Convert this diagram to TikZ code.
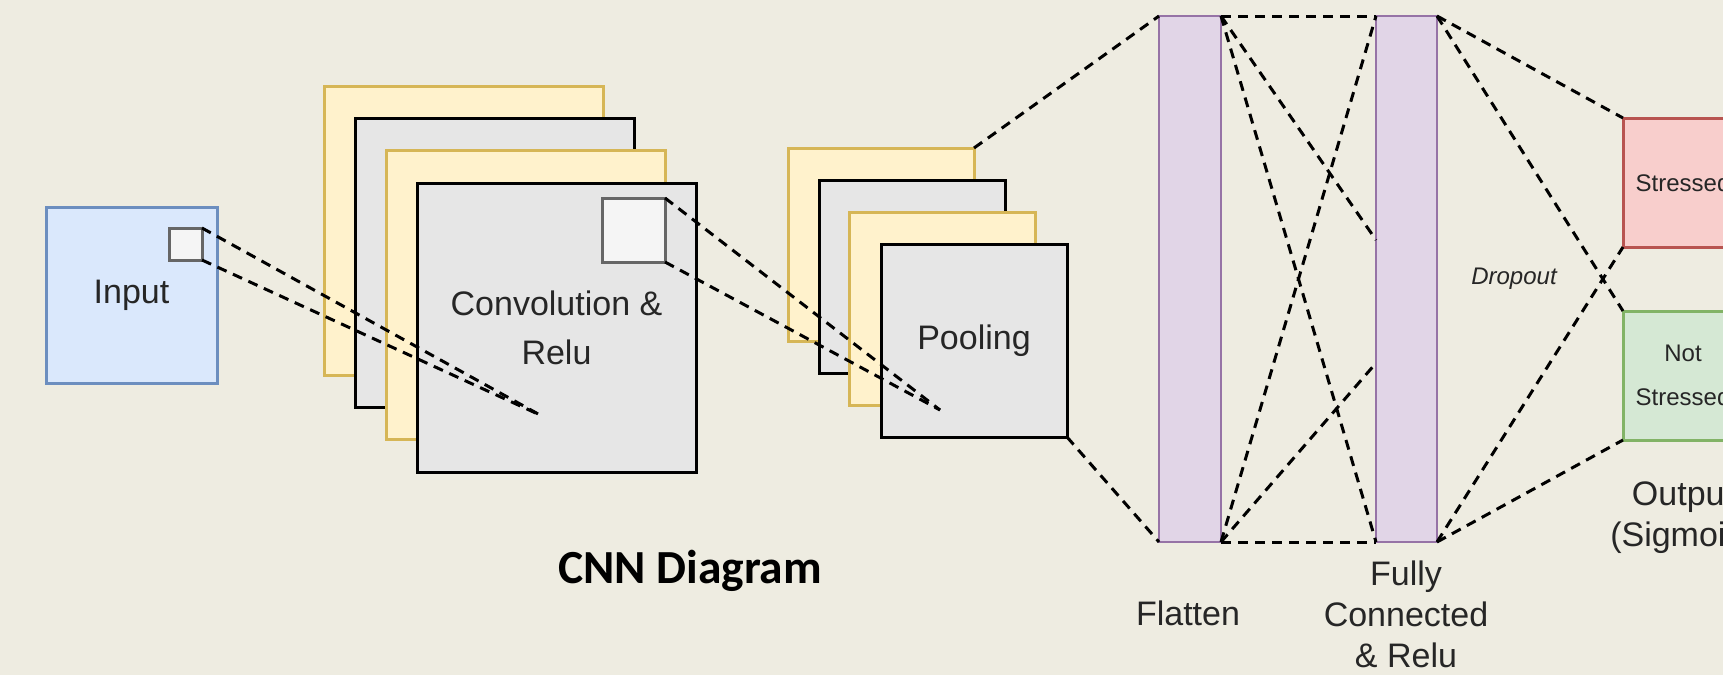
\documentclass[tikz,border=0pt]{standalone}
\usepackage{fontspec}
\setmainfont{Liberation Sans}
\newfontfamily\titlefont{Carlito}
\definecolor{bg}{HTML}{EEECE1}
\definecolor{txt}{HTML}{262626}
\definecolor{inFill}{HTML}{DAE8FC}
\definecolor{inLine}{HTML}{6C8EBF}
\definecolor{yFill}{HTML}{FFF2CC}
\definecolor{yLine}{HTML}{D6B656}
\definecolor{gFill}{HTML}{E6E6E6}
\definecolor{sFill}{HTML}{F5F5F5}
\definecolor{sLine}{HTML}{666666}
\definecolor{pFill}{HTML}{E1D5E7}
\definecolor{pLine}{HTML}{9673A6}
\definecolor{rFill}{HTML}{F8CECC}
\definecolor{rLine}{HTML}{B85450}
\definecolor{grFill}{HTML}{D5E8D4}
\definecolor{grLine}{HTML}{82B366}
\begin{document}
\begin{tikzpicture}[x=1pt,y=-1pt,
  box/.style={rectangle, inner sep=0pt, outer sep=0pt, anchor=north west, line width=3pt, text=txt},
  convsize/.style={minimum width=279pt, minimum height=289pt},
  poolsize/.style={minimum width=186pt, minimum height=193pt},
  yellowmap/.style={box, fill=yFill, draw=yLine},
  graymap/.style={box, fill=gFill, draw=black},
  window/.style={box, fill=sFill, draw=sLine},
  column/.style={box, fill=pFill, draw=pLine, line width=2.4pt, minimum width=62pt, minimum height=526pt},
  outbox/.style={box, line width=3pt, minimum width=120pt, minimum height=129pt},
  big/.style={font=\fontsize{34}{49}\selectfont, align=center, text=txt},
  small/.style={font=\fontsize{24}{44}\selectfont, align=center, text=txt},
  link/.style={line width=3pt, dash pattern=on 10pt off 7pt, black}
]
\clip (0,0) rectangle (1723,675);
\fill[bg] (0,0) rectangle (1723,675);

% input image with its sliding window
\node[box, fill=inFill, draw=inLine, minimum width=171pt, minimum height=176pt, big] (inp) at (46,207) {Input};
\node[window, minimum width=33pt, minimum height=32pt] (iw) at (169,228) {};

% convolution feature maps
\node[yellowmap, convsize] (cy1) at (324,86) {};
\node[graymap, convsize] (cg1) at (355,118) {};
\node[yellowmap, convsize] (cy2) at (386,150) {};
\node[graymap, convsize, big] (cg2) at (417,183) {Convolution \&\\Relu};
\node[window, minimum width=63pt, minimum height=64pt] (cw) at (602,198) {};
\coordinate (ct) at (540,415);
\draw[link] (iw.north east) -- (ct);
\draw[link] (iw.south east) -- (ct);

% pooled maps
\node[yellowmap, poolsize] (py1) at (788,148) {};
\node[graymap, poolsize] (pg1) at (819,180) {};
\node[yellowmap, poolsize] (py2) at (849,212) {};
\node[graymap, poolsize, big] (pg2) at (881,244) {\raisebox{-3pt}{Pooling}};
\coordinate (pt) at (940,410);
\draw[link] (cw.north east) -- (pt);
\draw[link] (cw.south east) -- (pt);

% dense part
\node[column] (fl) at (1159,16) {};
\node[column, minimum width=61pt] (fc) at (1376,16) {};
\draw[link] (py1.north east) -- (fl.north west);
\draw[link] (pg2.south east) -- (fl.south west);

\coordinate (fcA) at (1376,240);
\coordinate (fcB) at (1376,363);
\draw[link] (fl.north east) -- (fc.north west);
\draw[link] (fl.north east) -- (fcA);
\draw[link] (fl.north east) -- (fc.south west);
\draw[link] (fl.south east) -- (fc.south west);
\draw[link] (fl.south east) -- (fc.north west);
\draw[link] (fl.south east) -- (fcB);

% output classes
\node[outbox, fill=rFill, draw=rLine, small] (st) at (1623,118) {Stressed};
\node[outbox, fill=grFill, draw=grLine, small] (ns) at (1623,311) {Not\\Stressed};
\draw[link] (fc.north east) -- (st.north west);
\draw[link] (fc.north east) -- (ns.north west);
\draw[link] (fc.south east) -- (st.south west);
\draw[link] (fc.south east) -- (ns.south west);

% captions
\node[small, font=\fontsize{24}{30}\selectfont\itshape] (dr) at (1514,279) {Dropout};
\node[big, font=\fontsize{34}{41}\selectfont] (flL) at (1188,613) {Flatten};
\node[big, font=\fontsize{34}{41}\selectfont] (fcL) at (1406,614) {Fully\\Connected\\\& Relu};
\node[big, font=\fontsize{34}{41}\selectfont] (outL) at (1683,518) {Output\\(Sigmoid)};
\node[font=\titlefont\bfseries\fontsize{47.5}{52}\selectfont, text=black] (title) at (690,571) {CNN Diagram};
\end{tikzpicture}
\end{document}
